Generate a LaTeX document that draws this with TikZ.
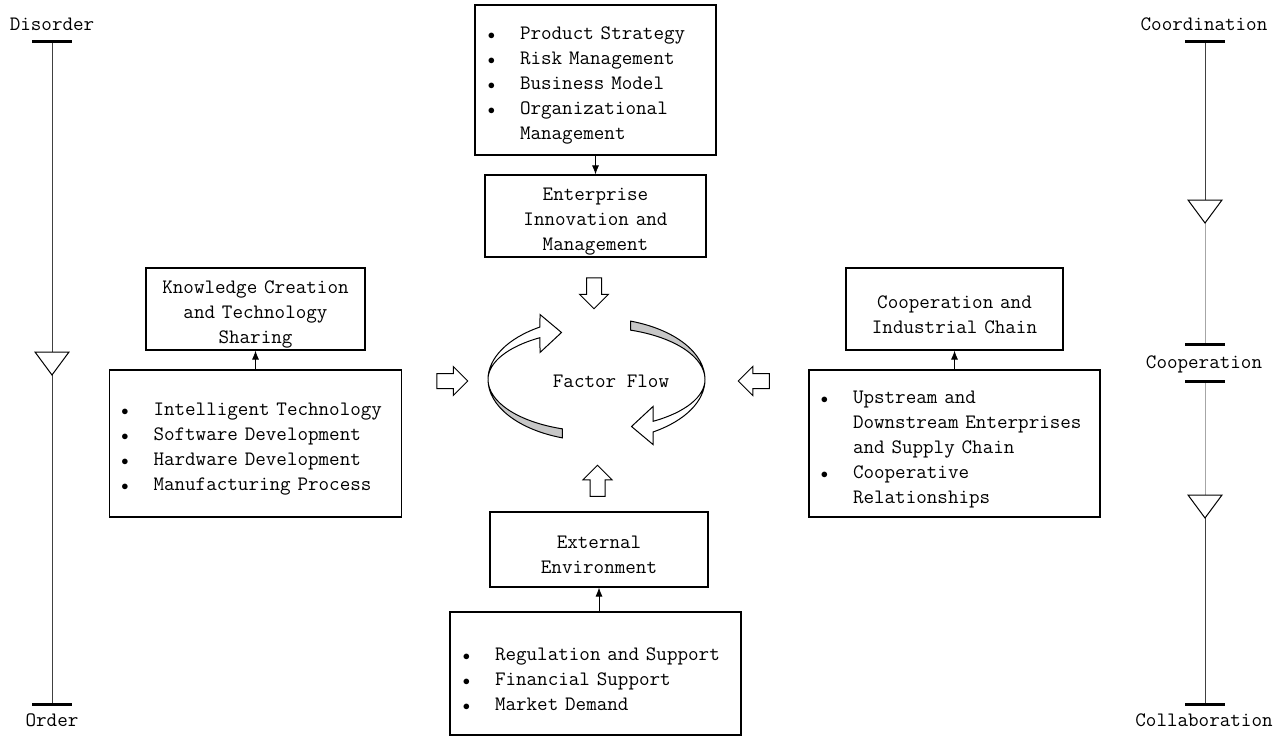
\documentclass[tikz,border=0pt]{standalone}
\usepackage{amsmath,amssymb}
\usepackage{xcolor}
\usepackage{tikz}
\usetikzlibrary{shapes.arrows,arrows.meta}

\newcommand{\itm}[1]{\makebox[35pt][l]{\makebox[13pt]{$\scriptstyle\bullet$}}#1}
\newcommand{\cont}[1]{\hspace*{35pt}#1}
\newcommand{\valve}[1]{\draw[valve] ([xshift=-17pt]#1) -- ([xshift=17pt]#1) -- ([yshift=-23pt]#1) -- cycle;}

\begin{document}
\begin{tikzpicture}[x=1pt, y=-1pt,
		every node/.style={font=\ttfamily\fontsize{20.5}{25}\selectfont},
		box/.style={rectangle, draw=black, line width=1.2pt, align=center, inner sep=0pt,
				execute at begin node={\rule{0pt}{24pt}}},
		listbox/.style={box, align=left},
		flowarrow/.style={single arrow, draw=black, line width=1pt, fill=white,
				inner xsep=0pt, inner ysep=7pt, minimum height=31pt, single arrow head extend=7pt},
		link/.style={-{Latex[length=9pt,width=7pt]}, line width=0.8pt},
		bar/.style={line width=3pt},
		axis/.style={line width=1pt, draw=black!75},
		faint/.style={line width=1pt, draw=black!35},
		valve/.style={draw=black, line width=1pt, fill=white}
	]
	\useasboundingbox (0,0) rectangle (1284,738);

	% boxes
	\node[listbox, text width=221pt, inner xsep=10pt, minimum height=150pt] (strategy) at (595.5,80)
	{\itm{Product Strategy}\\ \itm{Risk Management}\\ \itm{Business Model}\\ \itm{Organizational}\\ \cont{Management}};
	\node[box, text width=221pt, minimum height=82pt] (enterprise) at (595.5,216)
	{Enterprise\\Innovation and\\Management};

	\node[box, text width=219pt, minimum height=82pt] (knowledge) at (255.5,309)
	{Knowledge Creation\\and Technology\\Sharing};
	\node[listbox, text width=274pt, inner xsep=9pt, minimum height=147pt] (tech) at (255.5,443.5)
	{\itm{Intelligent Technology}\\ \itm{Software Development}\\ \itm{Hardware Development}\\ \itm{Manufacturing Process}};

	\node[box, text width=217pt, minimum height=82pt] (cooperation) at (954.5,309)
	{Cooperation and\\Industrial Chain};
	\node[listbox, text width=273pt, inner xsep=9pt, minimum height=147pt] (chain) at (954.5,443.5)
	{\itm{Upstream and}\\ \cont{Downstream Enterprises}\\ \cont{and Supply Chain}\\ \itm{Cooperative}\\ \cont{Relationships}};

	\node[box, text width=218pt, minimum height=75pt] (external) at (599,549.5)
	{External\\Environment};
	\node[listbox, text width=271pt, inner xsep=10pt, minimum height=123pt] (environment) at (595.5,673.5)
	{\itm{Regulation and Support}\\ \itm{Financial Support}\\ \itm{Market Demand}};

	\draw[link] (strategy) -- (enterprise);
	\draw[link] (tech) -- (knowledge);
	\draw[link] (chain) -- (cooperation);
	\draw[link] (environment.north -| external) -- (external.south);

	% factor flow
	\node (flow) at (611,381) {Factor Flow};
	\begin{scope}[shift={(596.5,379.5)}]
		\foreach \r in {0,180} {
				\begin{scope}[rotate=\r]
					\filldraw[line width=1pt, fill=black!22] (180:108.5pt and 61.5pt)
					arc[start angle=180, end angle=251.7, x radius=108.5pt, y radius=61.5pt]
					-- (251.7:108.5pt and 52pt)
					arc[start angle=251.7, end angle=180, x radius=108.5pt, y radius=52pt] -- cycle;
					\filldraw[line width=1pt, fill=white] (121.4:108.5pt and 61.5pt)
					arc[start angle=121.4, end angle=180, x radius=108.5pt, y radius=61.5pt]
					arc[start angle=180, end angle=121.4, x radius=108.5pt, y radius=49pt]
					-- (-56.5pt,27pt) -- (-35pt,47pt) -- (-56.5pt,65pt) -- cycle;
				\end{scope}
			}
	\end{scope}

	\node[flowarrow, rotate=-90] (inTop) at (594,289.5) {};
	\node[flowarrow] (inLeft) at (448.5,381) {};
	\node[flowarrow, rotate=180] (inRight) at (757.5,381) {};
	\node[flowarrow, rotate=90] (inBottom) at (597.5,484.5) {};

	% left scale
	\node (disorder) at (52,24) {Disorder};
	\node (order) at (52,720) {Order};
	\coordinate (lTop) at (52,42);
	\coordinate (lBot) at (52,704);
	\coordinate (lValve) at (52,352);
	\draw[axis] (lTop) -- (lBot);
	\foreach \c in {lTop,lBot} {
			\draw[bar] ([xshift=-20pt]\c) -- ([xshift=20pt]\c);
		}
	\valve{lValve}

	% right scale
	\node (coordination) at (1204,24) {Coordination};
	\node (cooperate) at (1204,364) {Cooperation};
	\node (collaboration) at (1204,720) {Collaboration};
	\coordinate (rTop) at (1205,42);
	\coordinate (rMidA) at (1205,344);
	\coordinate (rMidB) at (1205,381);
	\coordinate (rBot) at (1205,704);
	\coordinate (rValveA) at (1205,200);
	\coordinate (rValveB) at (1205,495);
	\draw[axis] (rTop) -- (rValveA);
	\draw[faint] (rValveA) -- (rMidA);
	\draw[faint] (rMidB) -- (rValveB);
	\draw[axis] (rValveB) -- (rBot);
	\foreach \c in {rTop,rMidA,rMidB,rBot} {
			\draw[bar] ([xshift=-20pt]\c) -- ([xshift=20pt]\c);
		}
	\valve{rValveA}
	\valve{rValveB}
\end{tikzpicture}
\end{document}
